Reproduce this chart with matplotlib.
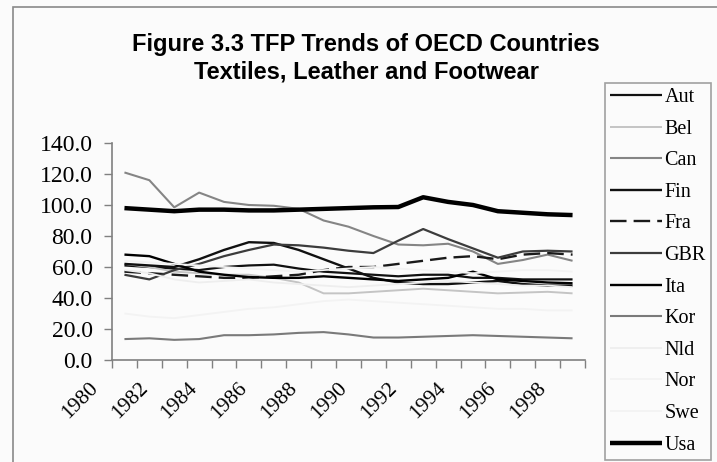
import matplotlib

matplotlib.use("Agg")
import matplotlib.pyplot as plt
from matplotlib.patches import Rectangle
from matplotlib.transforms import ScaledTranslation
import numpy as np

# data (TFP index, 1980-1998)
years = list(range(1980, 1999))
aut = [61, 60, 59, 58, 60, 61, 61.5, 59, 57, 56, 55, 54, 55, 55, 53, 53, 52, 52, 52]
bel = [62, 60, 57, 56, 55, 55, 53, 50, 43, 43, 44, 45, 46, 45, 44, 43, 43.5, 44, 43]
can = [121, 116, 98.5, 108, 102, 100, 99.5, 97.5, 90, 86, 80, 74.5, 74, 75, 70, 62, 64.5, 68, 64]
fin = [62, 61, 60, 65, 71, 76, 75.5, 71, 65, 59, 53, 50, 49, 49, 50, 51, 49, 48, 48]
fra = [57, 56, 55, 54, 53, 53, 54, 55, 58, 60, 60, 62, 64, 66, 67, 65, 68, 69, 68]
gbr = [55, 52, 58, 62, 67, 71, 74.5, 74, 72.5, 70.5, 69, 77, 84.5, 78, 72, 66, 70, 70.5, 70]
ita = [68, 67, 62, 57, 55, 53.5, 53, 53, 54, 53, 52, 51, 52, 53, 57, 52, 51, 50, 49.5]
kor = [13.5, 14, 13, 13.5, 16, 16, 16.5, 17.5, 18, 16.5, 14.5, 14.5, 15, 15.5, 16, 15.5, 15, 14.5, 14]
nld = [58, 56, 52, 50, 51, 52, 50, 49, 48, 47, 48, 49, 50, 51, 50, 49, 48, 48, 47]
nor = [30, 28, 27, 29, 31, 33, 34, 36, 38, 39, 38, 37, 36, 35, 34, 33, 33, 32, 32]
swe = [64, 63, 62, 61, 60, 59, 58, 57, 58, 59, 60, 59, 58, 57, 56, 57, 58, 58, 57]
usa = [98, 97, 96, 97, 97, 96.5, 96.5, 97, 97.5, 98, 98.5, 98.7, 105, 102, 100, 96, 95, 94, 93.5]

series = [
    ("Aut", aut, "#111111", 1.6, "-"),
    ("Bel", bel, "#c4c4c4", 1.4, "-"),
    ("Can", can, "#858585", 1.5, "-"),
    ("Fin", fin, "#111111", 1.7, "-"),
    ("Fra", fra, "#1a1a1a", 1.7, (0, (7, 3))),
    ("GBR", gbr, "#3c3c3c", 1.6, "-"),
    ("Ita", ita, "#000000", 1.7, "-"),
    ("Kor", kor, "#7a7a7a", 1.5, "-"),
    ("Nld", nld, "#eeeeee", 1.3, "-"),
    ("Nor", nor, "#f3f3f3", 1.3, "-"),
    ("Swe", swe, "#f3f3f3", 1.3, "-"),
    ("Usa", usa, "#000000", 3.2, "-"),
]

W, H = 717, 462
bg = "#fbfbfb"
fig = plt.figure(figsize=(W / 100, H / 100), dpi=100, facecolor=bg)

# outer chart frame (only top/left edges visible in the crop)
fig.patches.append(Rectangle((13 / W, -0.1), 1.2, 1 - 7 / H + 0.1, transform=fig.transFigure,
                             fill=False, edgecolor="#8a8a8a", linewidth=1.2))

serif = "Liberation Serif"
fig.text(366 / W, 1 - 45 / H, "Figure 3.3 TFP Trends of OECD Countries", ha="center", va="center",
         family="Liberation Sans", weight="bold", fontsize=17)
fig.text(366 / W, 1 - 72 / H, "Textiles, Leather and Footwear", ha="center", va="center",
         family="Liberation Sans", weight="bold", fontsize=17)

ax = fig.add_axes([112 / W, (H - 360) / H, (585 - 112) / W, (360 - 143) / H])
ax.set_facecolor(bg)
x = np.arange(len(years))
handles = []
for name, vals, color, lw, ls in series:
    (ln,) = ax.plot(x, vals, color=color, linewidth=lw, linestyle=ls, label=name,
                    solid_capstyle="butt", dash_capstyle="butt")
    handles.append(ln)

ax.set_xlim(-0.5, len(years) - 0.5)
ax.set_ylim(0, 140)
ax.set_yticks(np.arange(0, 141, 20))
ax.set_yticklabels([f"{v:.1f}" for v in np.arange(0, 141, 20)], family=serif, fontsize=17)

# category axis: tick marks between categories, year labels on every other category
ax.set_xticks(np.arange(-0.5, len(years), 1.0))
ax.set_xticklabels([])
lab_tr = ax.get_xaxis_transform() + ScaledTranslation(-0.36, -0.19, fig.dpi_scale_trans)
for xi, yr in zip(x[::2], years[::2]):
    ax.text(xi, 0, str(yr), transform=lab_tr, rotation=45, ha="right", va="top",
            rotation_mode="anchor", family=serif, fontsize=15.5)
ax.tick_params(axis="x", length=6, color="#808080", width=1)
ax.tick_params(axis="y", length=6, color="#808080", width=1, pad=8)

for s in ("top", "right"):
    ax.spines[s].set_visible(False)
for s in ("left", "bottom"):
    ax.spines[s].set_color("#808080")
    ax.spines[s].set_linewidth(1.2)

leg = fig.legend(handles=handles, loc="upper left", bbox_to_anchor=(605 / W, 1 - 83 / H),
                 prop={"family": serif, "size": 14.5}, frameon=True, fancybox=False,
                 handlelength=2.6, handletextpad=0.1, labelspacing=0.62,
                 borderpad=0.25, borderaxespad=0)
leg.get_frame().set_edgecolor("#8a8a8a")
leg.get_frame().set_linewidth(1.2)
leg.get_frame().set_facecolor(bg)

fig.savefig("out.png", dpi=100, facecolor=bg)
